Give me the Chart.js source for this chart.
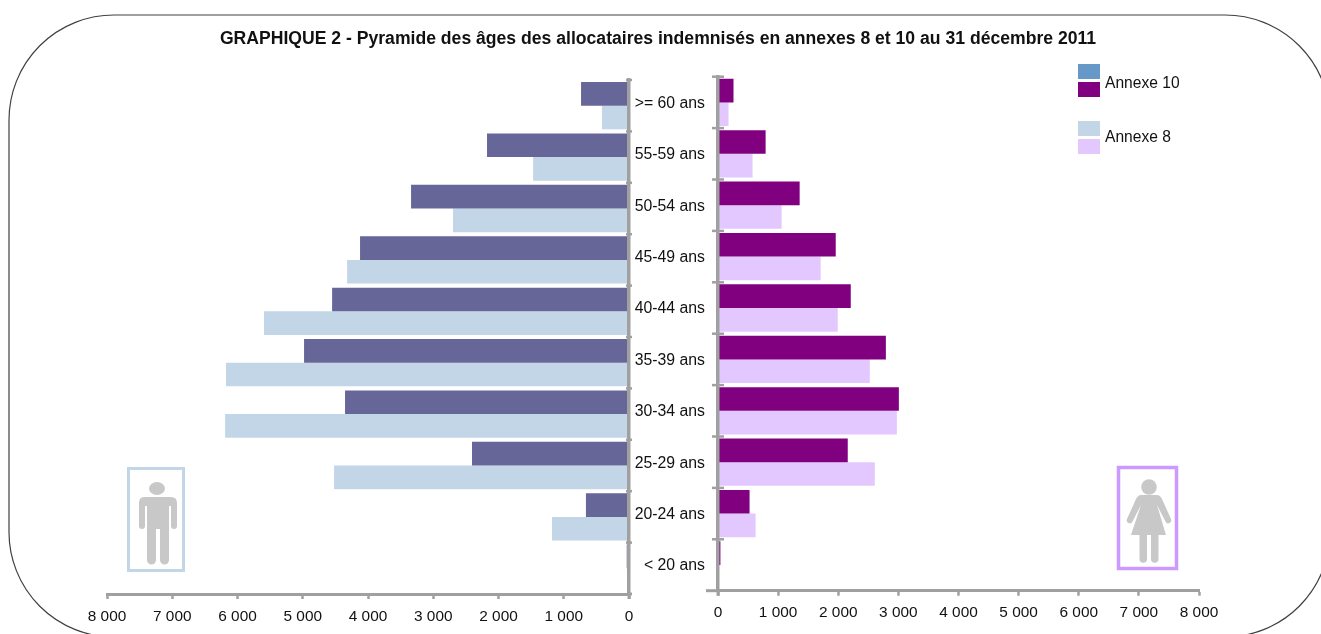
<!DOCTYPE html>
<html lang="fr">
<head>
<meta charset="utf-8">
<title>Pyramide des âges</title>
<script src="https://cdn.jsdelivr.net/npm/chart.js@4"></script>
<style>
html,body{margin:0;padding:0;background:#fff;overflow:hidden;width:1321px;height:634px}
#stage{position:relative;width:1321px;height:634px;overflow:hidden;font-family:"Liberation Sans",Arial,sans-serif;color:#111}
canvas{position:absolute;left:0;top:0}
svg{position:absolute;left:0;top:0}
.title{position:absolute;left:0;width:1316px;top:28px;text-align:center;font-weight:bold;font-size:17.6px;line-height:20px;color:#111;white-space:nowrap}
.lg{position:absolute;font-size:15.6px;line-height:18px;white-space:nowrap}
.sw{position:absolute;left:1078px;width:22px;height:15px}
.fig{filter:blur(0.5px)}
</style>
</head>
<body>
<div id="stage">
<svg width="1321" height="634" viewBox="0 0 1321 634">
  <rect x="9" y="15" width="1321" height="622" rx="105" ry="105" fill="none" stroke="#404040" stroke-width="1.2"/>
  <rect x="128.5" y="468.5" width="55" height="102" fill="none" stroke="#C3D6E8" stroke-width="3"/>
  <g fill="#C8C8C8" class="fig">
    <ellipse cx="157" cy="488.500" rx="8" ry="6.500"/>
    <path d="M144 497H171Q177 497 177 503V526a3 3 0 0 1-6 0V506H169V560a4.500 4.500 0 0 1-9 0V529H156V560a4.500 4.500 0 0 1-9 0V506H145V526a3 3 0 0 1-6 0V503Q139 497 144 497Z"/>
  </g>
  <rect x="1118.5" y="467.500" width="58" height="101" fill="none" stroke="#CC99FF" stroke-width="3.5"/>
  <g fill="#C8C8C8" class="fig">
    <circle cx="1149" cy="487" r="7.800"/>
    <path d="M1141 495H1157Q1160 495 1162 499L1171 519a3 3 0 0 1-5.500 2.500L1157 505L1166 535H1158.500V559a3.700 3.700 0 0 1-7.500 0V535H1147V559a3.700 3.700 0 0 1-7.500 0V535H1131L1141 505L1132.500 521.500a3 3 0 0 1-5.500-2.500L1136 499Q1138 495 1141 495Z"/>
  </g>
</svg>
<canvas id="menChart" width="1321" height="634"></canvas>
<canvas id="womenChart" width="1321" height="634"></canvas>
<div class="title">GRAPHIQUE 2 - Pyramide des âges des allocataires indemnisés en annexes 8 et 10 au 31 décembre 2011</div>
<div class="sw" style="top:64px;background:#6699C8"></div>
<div class="sw" style="top:82px;background:#800080"></div>
<div class="lg" style="left:1105px;top:74px">Annexe 10</div>
<div class="sw" style="top:121px;background:#C3D6E8"></div>
<div class="sw" style="top:139px;background:#E3C8FF"></div>
<div class="lg" style="left:1105px;top:128px">Annexe 8</div>
</div>
<script>
const ageGroups = [">= 60 ans","55-59 ans","50-54 ans","45-49 ans","40-44 ans","35-39 ans","30-34 ans","25-29 ans","20-24 ans","< 20 ans"];
const menAnnexe10   = [735,2176,3340,4122,4550,4980,4352,2406,660,35];
const menAnnexe8    = [415,1470,2697,4320,5594,6176,6190,4520,1180,10];
const womenAnnexe10 = [258,792,1358,1958,2208,2792,3008,2158,525,40];
const womenAnnexe8  = [175,575,1058,1708,1992,2525,2975,2608,625,5];
const axisGrey = "#A0A0A0";
const textColor = "#111111";
const fontFamily = '"Liberation Sans", Arial, sans-serif';
const frTick = v => v === 0 ? "0" : (v/1000) + " 000";

const bothSideTicks = (halfIn, halfOut, axisExt) => ({
  id: "bothSideTicks",
  afterDraw(chart){
    const y = chart.scales.y, x = chart.scales.x, ctx = chart.ctx;
    const band = (y.getPixelForValue(1) - y.getPixelForValue(0));
    const ax = x.getPixelForValue(0);
    ctx.save();
    ctx.strokeStyle = axisGrey; ctx.lineWidth = 2.5;
    for (let i = 0; i < ageGroups.length; i++) {
      const py = y.getPixelForValue(i) - band/2;
      ctx.beginPath(); ctx.moveTo(ax - halfOut, py); ctx.lineTo(ax + halfIn, py); ctx.stroke();
    }
    ctx.lineWidth = 3;
    const bottom = y.getPixelForValue(ageGroups.length-1) + band/2;
    ctx.beginPath(); ctx.moveTo(ax - axisExt[0], bottom); ctx.lineTo(ax + axisExt[1], bottom); ctx.stroke();
    ctx.beginPath(); ctx.moveTo(ax, bottom); ctx.lineTo(ax, bottom + 5); ctx.stroke();
    ctx.restore();
  }
});

function makeChart(id, dark, light, darkColor, lightColor, padding, reverse, showLabels, xPad, plugin){
  return new Chart(document.getElementById(id), {
    type: "bar",
    data: { labels: ageGroups, datasets: [
      { label: "Annexe 10", data: dark, backgroundColor: darkColor, borderWidth: 0 },
      { label: "Annexe 8", data: light, backgroundColor: lightColor, borderWidth: 0 }
    ]},
    options: {
      indexAxis: "y",
      responsive: false,
      animation: false,
      devicePixelRatio: 1,
      datasets: { bar: { categoryPercentage: 0.92, barPercentage: 1 } },
      layout: { padding },
      plugins: { legend: { display: false }, title: { display: false }, tooltip: { enabled: false } },
      scales: {
        x: {
          reverse, min: 0, max: 8000,
          afterFit(s){ s.height = 30; },
          border: { display: true, color: axisGrey, width: 3, z: 1 },
          grid: { drawOnChartArea: false, drawTicks: true, tickLength: 5, tickColor: axisGrey, tickWidth: 2.5 },
          ticks: { stepSize: 1000, autoSkip: false, maxRotation: 0, padding: xPad, color: textColor,
                   font: { family: fontFamily, size: 15.4 }, callback: frTick }
        },
        y: {
          position: reverse ? "right" : "left",
          afterFit(s){ s.width = showLabels ? 90 : 0; },
          border: { display: true, color: axisGrey, width: 3.5, z: 1 },
          grid: { display: false, drawTicks: false },
          ticks: { display: showLabels, autoSkip: false, padding: 13, labelOffset: 1, color: textColor,
                   font: { family: fontFamily, size: 15.8 } }
        }
      }
    },
    plugins: [plugin]
  });
}

makeChart("menChart", menAnnexe10, menAnnexe8, "#666699", "#C3D6E8",
  { left: 107, right: 692, top: 80, bottom: 10 }, true, false, 9, bothSideTicks(3, 3, [0, 3]));
makeChart("womenChart", womenAnnexe10, womenAnnexe8, "#800080", "#E3C8FF",
  { left: 628, right: 122, top: 76.7, bottom: 13.3 }, false, true, 8, bothSideTicks(6, 6, [12, 0]));
</script>
</body>
</html>
